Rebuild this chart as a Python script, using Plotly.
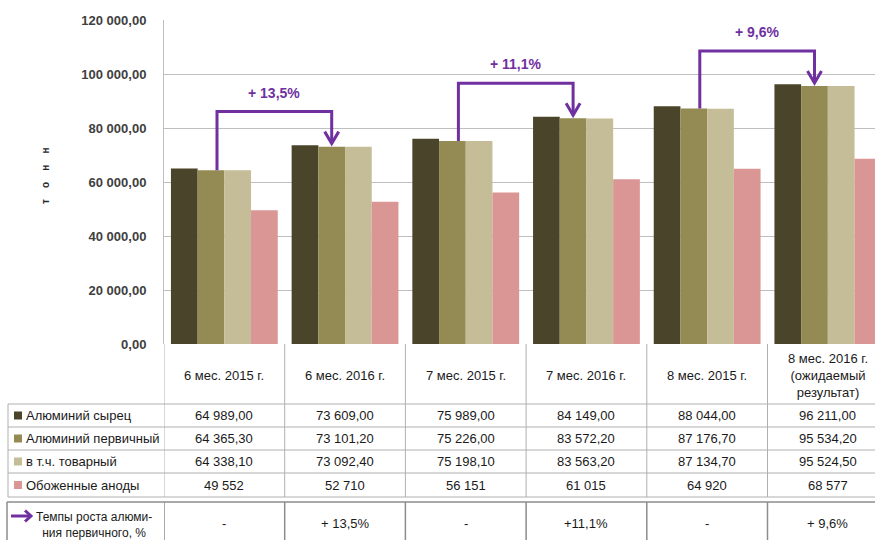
import plotly.graph_objects as go

# periods (header row of the table under the chart)
periods = [
    "6 мес. 2015 г.",
    "6 мес. 2016 г.",
    "7 мес. 2015 г.",
    "7 мес. 2016 г.",
    "8 мес. 2015 г.",
    "8 мес. 2016 г.<br>(ожидаемый<br>результат)",
]
series_names = ["Алюминий сырец", "Алюминий первичный", "в т.ч. товарный", "Обоженные аноды"]
raw_al = [64989.00, 73609.00, 75989.00, 84149.00, 88044.00, 96211.00]
primary_al = [64365.30, 73101.20, 75226.00, 83572.20, 87176.70, 95534.20]
commodity_al = [64338.10, 73092.40, 75198.10, 83563.20, 87134.70, 95524.50]
anodes = [49552, 52710, 56151, 61015, 64920, 68577]
series = [raw_al, primary_al, commodity_al, anodes]
decimals = [2, 2, 2, 0]

growth_row = ["-", "+ 13,5%", "-", "+11,1%", "-", "+ 9,6%"]
growth_title = "Темпы роста алюми-<br>ния первичного, %"
arrow_pairs = [(0, 1), (2, 3), (4, 5)]
arrow_labels = ["+ 13,5%", "+ 11,1%", "+ 9,6%"]

y_ticks = [0, 20000, 40000, 60000, 80000, 100000, 120000]
y_title = "\u00a0\u00a0\u00a0\u00a0".join("тонн")

colors = ["#4A452A", "#948A54", "#C4BD97", "#D99694"]
purple = "#7030A0"
grid = "#BFBFBF"
txt = "#1A1A1A"
FONT = "Arial, Liberation Sans, sans-serif"


def fmt(v, d):
    s = f"{v:,.{d}f}"
    return s.replace(",", " ").replace(".", ",")


# plot area in pixels
PL, PR, PT, PB = 164, 875, 20, 344
CAT = 120.7  # px per category
XMAX = -0.5 + (PR - PL) / CAT
XU = 1 / CAT  # data x per px
YU = 120000 / (PB - PT)  # data y per px


def px(x):
    return (x - PL) / (PR - PL)


def py(y):
    return (PB - y) / (PB - PT)


def note(text, x, y, xref="paper", xanchor="center", **font):
    f = dict(family=FONT, size=13, color=txt)
    f.update(font)
    return dict(x=x, y=y, xref=xref, yref="paper", text=text, showarrow=False,
                xanchor=xanchor, yanchor="middle", align="center", font=f)


xs = list(range(len(periods)))

fig = go.Figure()
for name, vals, col in zip(series_names, series, colors):
    fig.add_trace(go.Bar(x=xs, y=vals, name=name, marker=dict(color=col, line=dict(width=0))))

shapes = []
annotations = []

# growth arrows between olive bars
olive_off = -0.885 / 2 + 0.885 / 4 * 1.5
for (a, b), lab in zip(arrow_pairs, arrow_labels):
    x0 = a + olive_off + 6 * XU
    x1 = b + olive_off
    top = primary_al[b] + 13000
    tip = primary_al[b] + 3 * YU
    shapes.append(dict(type="path", xref="x", yref="y",
                       path=f"M {x0},{primary_al[a]} V {top} H {x1} V {tip}",
                       line=dict(color=purple, width=3)))
    shapes.append(dict(type="path", xref="x", yref="y",
                       path=f"M {x1 - 7 * XU},{tip + 12 * YU} L {x1},{tip} L {x1 + 7 * XU},{tip + 12 * YU}",
                       line=dict(color=purple, width=3)))
    annotations.append(dict(x=(x0 + x1) / 2, y=top, xref="x", yref="y", text=lab,
                            showarrow=False, yshift=19, xanchor="center", yanchor="middle",
                            font=dict(family=FONT, size=14, color=purple, weight="bold")))

# table lines
tl = dict(color="#B0B0B0", width=1)
for yy in [404, 427, 450, 473, 497]:
    shapes.append(dict(type="line", xref="paper", yref="paper", x0=px(8), x1=1,
                       y0=py(yy), y1=py(yy), line=tl))
shapes.append(dict(type="line", xref="paper", yref="paper", x0=px(8), x1=px(8),
                   y0=py(404), y1=py(497), line=tl))
for i in range(len(periods)):
    shapes.append(dict(type="line", xref="x", yref="paper", x0=i - 0.5, x1=i - 0.5,
                       y0=0, y1=py(497), line=tl))

# last row box
dl = dict(color="#8C8C8C", width=1.5)
shapes.append(dict(type="line", xref="paper", yref="paper", x0=px(7), x1=1,
                   y0=py(502), y1=py(502), line=dl))
shapes.append(dict(type="line", xref="paper", yref="paper", x0=px(7), x1=px(7),
                   y0=py(502), y1=py(541), line=dl))
for i in range(len(periods)):
    shapes.append(dict(type="line", xref="x", yref="paper", x0=i - 0.5, x1=i - 0.5,
                       y0=py(502), y1=py(541), line=dl))

# header labels
for i, p in enumerate(periods):
    annotations.append(note(p, i, py(375), xref="x"))

# value rows with legend keys
row_c = [415.5, 438.5, 461.5, 485]
for name, vals, d, col, yc in zip(series_names, series, decimals, colors, row_c):
    shapes.append(dict(type="rect", xref="paper", yref="paper", x0=px(14), x1=px(22),
                       y0=py(yc + 4), y1=py(yc - 4), fillcolor=col, line=dict(width=0)))
    annotations.append(note(name, px(24), py(yc), xanchor="left"))
    for i, v in enumerate(vals):
        annotations.append(note(fmt(v, d), i, py(yc), xref="x"))

# growth row
for i, g in enumerate(growth_row):
    annotations.append(note(g, i, py(523), xref="x"))
annotations.append(note(growth_title, px(94), py(525), size=12))
shapes.append(dict(type="path", xref="paper", yref="paper",
                   path=f"M {px(11)},{py(516)} L {px(30)},{py(516)}",
                   line=dict(color=purple, width=3)))
shapes.append(dict(type="path", xref="paper", yref="paper",
                   path=f"M {px(25)},{py(510.5)} L {px(31)},{py(516)} L {px(25)},{py(521.5)}",
                   line=dict(color=purple, width=3)))

# y-axis title
yt = note(y_title, px(45), py(176), size=10, color="#262626", weight="bold")
yt["textangle"] = -90
annotations.append(yt)

fig.update_layout(
    width=875,
    height=540,
    margin=dict(l=PL, r=875 - PR, t=PT, b=540 - PB, autoexpand=False),
    paper_bgcolor="white",
    plot_bgcolor="white",
    barmode="group",
    bargap=0.115,
    bargroupgap=0,
    showlegend=False,
    shapes=shapes,
    annotations=annotations,
    xaxis=dict(range=[-0.5, XMAX], showticklabels=False, showgrid=False, zeroline=False,
               showline=True, linecolor="white", linewidth=1, fixedrange=True),
    yaxis=dict(range=[0, 120000], tickvals=y_ticks, ticktext=[fmt(v, 2) for v in y_ticks],
               showgrid=True, gridcolor=grid, gridwidth=1, zeroline=False,
               showline=True, linecolor=grid, linewidth=1, ticks="", ticklabelstandoff=14,
               tickfont=dict(family=FONT, size=13, color="#404040", weight="bold")),
)

fig.write_html("out.html", config={"displayModeBar": False},
               post_script="document.body.style.margin='0';")
